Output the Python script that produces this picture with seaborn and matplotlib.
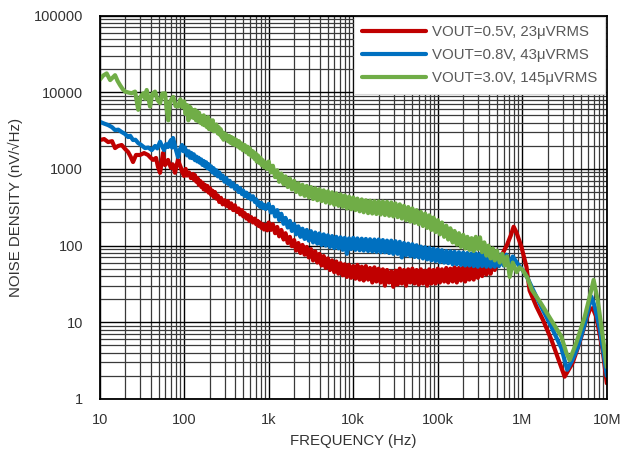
import numpy as np
import pandas as pd
import matplotlib
matplotlib.use("Agg")
import matplotlib.pyplot as plt
import seaborn as sns
from matplotlib.ticker import FixedLocator, NullFormatter, LogLocator

# ---------------- data ----------------
series_names = ["VOUT=0.5V, 23\u03bcVRMS", "VOUT=0.8V, 43\u03bcVRMS", "VOUT=3.0V, 145\u03bcVRMS"]
series_colors = ["#C00000", "#0070C0", "#70AD47"]

# (frequency Hz, noise nV/rtHz) pairs
red_pts = [
    (10, 2380), (11.3, 2450), (12.6, 2240), (14, 2300), (15.2, 1870), (16.5, 1990), (18.2, 2050),
    (20, 1820), (21.7, 1660), (23.2, 1450), (24.8, 1230), (26.9, 1520), (30, 1520), (33.5, 1610),
    (37.3, 1520), (40, 1400), (42.8, 1310), (46.4, 1390), (49, 1060), (51.8, 890), (54, 1200),
    (56.1, 1610), (59.3, 1120), (62, 1200), (64.4, 1310), (67, 1150), (69.8, 1030), (73, 1150),
    (77.8, 890), (81, 1100), (84.5, 1310), (88, 1150), (91.6, 1030), (95, 900), (99.5, 810),
    (104, 1000), (108, 820), (114, 900), (120, 760), (127, 860), (131, 720), (134, 830), (139, 680),
    (144, 760), (149, 620), (154, 700), (160, 580), (165, 660), (170, 540), (176, 620), (182, 520),
    (188, 600), (195, 490), (202, 560), (208, 460), (216, 520), (223, 430), (231, 500), (240, 410),
    (250, 450), (260, 370), (272, 420), (285, 345), (300, 390), (315, 330), (329, 380), (345, 310),
    (360, 355), (380, 290), (398, 335), (420, 275), (440, 305), (460, 255), (482, 290), (500, 240),
    (520, 265), (545, 225), (568, 250), (590, 210), (620, 235), (650, 200), (687, 225), (710, 190),
    (740, 210), (760, 180), (787, 200), (820, 170), (850, 190), (880, 162), (920, 185), (960, 158),
    (1000, 200), (1060, 160), (1120, 190), (1190, 145), (1260, 175), (1330, 132), (1410, 160),
    (1500, 120), (1580, 145), (1680, 108), (1780, 130), (1880, 98), (2000, 118), (2110, 86),
    (2240, 108), (2370, 80), (2510, 102), (2660, 76), (2820, 96), (2980, 70), (3160, 90), (3350, 64),
    (3550, 84), (3760, 60), (3980, 78), (4220, 55), (4470, 73), (4730, 51), (5010, 68), (5310, 48),
    (5620, 64), (5960, 45), (6310, 62), (6680, 43), (7080, 59), (7500, 41), (7940, 57), (8410, 39),
    (8910, 56), (9440, 38), (10000, 54), (10600, 37), (11200, 56), (11900, 36), (12600, 53),
    (13300, 35), (14100, 54), (15000, 36), (15800, 51), (16800, 33), (17800, 52), (18800, 34),
    (20000, 50), (21100, 33), (22400, 49), (23700, 30), (25100, 48), (26600, 33), (28200, 46),
    (29800, 29), (31600, 47), (33500, 31), (35500, 50), (37600, 32), (39800, 48), (42200, 30),
    (44700, 49), (47300, 33), (50100, 50), (53100, 32), (56200, 48), (59600, 31), (63100, 49),
    (66800, 32), (70800, 47), (75000, 30), (79400, 49), (84100, 32), (89100, 48), (94400, 32),
    (100000, 50), (106000, 33), (112000, 49), (119000, 34), (126000, 51), (133000, 33),
    (141000, 50), (150000, 34), (158000, 52), (168000, 33), (178000, 51), (188000, 35),
    (200000, 52), (211000, 34), (224000, 51), (237000, 36), (251000, 53), (266000, 36),
    (282000, 52), (298000, 38), (316000, 56), (335000, 40), (355000, 56), (376000, 42),
    (398000, 59), (422000, 43), (447000, 61), (473000, 48), (501000, 64),
    (571000, 75), (654000, 100), (730000, 135), (790000, 176), (850000, 150), (975000, 97),
    (1.12e6, 53), (1.22e6, 26), (1.47e6, 16), (1.76e6, 10.7), (2.21e6, 5.9), (2.77e6, 2.95),
    (3.17e6, 1.95), (3.94e6, 2.95), (4.5e6, 4.5), (5.0e6, 6.5), (5.6e6, 10), (6.27e6, 14.5),
    (6.8e6, 15.3), (7.5e6, 11.8), (8.9e6, 4.4), (1e7, 1.6),
]

blue_pts = [
    (10, 4120), (11.3, 3900), (12.6, 3730), (14, 3500), (15.2, 3210), (16.6, 3250), (18.2, 3030),
    (20, 2850), (21.7, 2600), (23, 2700), (24.8, 2380), (26.5, 2400), (28.5, 2180), (31, 2050),
    (34.4, 1870), (37.5, 1900), (41.3, 1760), (45.2, 1990), (48, 1850), (51.8, 2260), (54.5, 2000),
    (57.7, 1760), (61, 2100), (64.4, 1930), (67, 2200), (69.8, 2380), (71.8, 1900), (73.8, 2530),
    (77, 2100), (80, 1760), (84.5, 1430), (89, 1800), (94.2, 2050), (98, 1700),
    (102, 1900), (108, 1500), (113, 1700), (117, 1400), (121, 1620), (125, 1380), (130, 1550),
    (134, 1300), (139, 1450), (143, 1250), (148, 1400), (154, 1200), (159, 1330), (164, 1130),
    (170, 1270), (176, 1080), (182, 1220), (188, 1020), (195, 1150), (202, 980), (208, 1080),
    (215, 900), (223, 1020), (231, 850), (240, 960), (250, 800), (260, 900), (272, 750), (285, 820),
    (300, 680), (315, 760), (329, 640), (345, 700), (360, 590), (380, 650), (398, 550), (420, 600),
    (440, 500), (460, 560), (482, 470), (500, 520), (520, 440), (545, 490), (568, 420), (590, 460),
    (620, 400), (650, 440), (687, 370), (710, 400), (740, 340), (760, 370), (787, 320), (820, 360),
    (850, 310), (880, 340), (920, 300), (960, 330),
    (1000, 350), (1060, 270), (1120, 320), (1190, 240), (1260, 290), (1330, 215), (1410, 260),
    (1500, 192), (1580, 230), (1680, 172), (1780, 210), (1880, 155), (2000, 192), (2110, 140),
    (2240, 178), (2370, 130), (2510, 166), (2660, 122), (2820, 160), (2980, 116), (3160, 154),
    (3350, 110), (3550, 148), (3760, 106), (3980, 144), (4220, 102), (4470, 140), (4730, 100),
    (5010, 136), (5310, 96), (5620, 133), (5960, 93), (6310, 130), (6680, 92), (7080, 128),
    (7500, 88), (7940, 126), (8410, 78), (8910, 124), (9440, 90), (10000, 126), (10600, 88),
    (11200, 124), (11900, 87), (12600, 123), (13300, 86), (14100, 122), (15000, 85), (15800, 121),
    (16800, 84), (17800, 120), (18800, 83), (20000, 120), (21100, 82), (22400, 118), (23700, 82),
    (25100, 116), (26600, 80), (28200, 116), (29800, 78), (31600, 114), (33500, 78), (35500, 112),
    (37600, 70), (39800, 108), (42200, 75), (44700, 106), (47300, 73), (50100, 104), (53100, 71),
    (56200, 101), (59600, 70), (63100, 97), (66800, 68), (70800, 95), (75000, 66), (79400, 93),
    (84100, 64), (89100, 91), (94400, 63), (100000, 89), (106000, 61), (112000, 87), (119000, 60),
    (126000, 85), (133000, 59), (141000, 84), (150000, 57), (158000, 83), (168000, 57),
    (178000, 82), (188000, 56), (200000, 81), (211000, 55), (224000, 80), (237000, 55),
    (251000, 79), (266000, 54), (282000, 79), (298000, 53), (316000, 78), (335000, 54),
    (355000, 77), (376000, 53), (398000, 77), (422000, 53), (447000, 77), (473000, 53),
    (501000, 76), (530000, 54), (560000, 76), (600000, 55), (650000, 76), (700000, 56),
    (771000, 72), (880000, 58), (1.01e6, 48), (1.15e6, 38), (1.33e6, 27), (1.65e6, 16.5),
    (2.2e6, 8.8), (2.9e6, 4.6), (3.4e6, 2.4), (3.9e6, 3.2), (4.5e6, 4.6), (5.5e6, 9.5),
    (6.56e6, 21.6), (7.2e6, 16), (8.2e6, 8.5), (9.2e6, 3.8), (1e7, 2.0),
]

green_pts = [
    (10, 14500), (11, 16500), (12.1, 17600), (13.3, 14400), (14.2, 15500), (15.2, 16700),
    (16.3, 14000), (17.4, 12400), (18.7, 11000), (20, 10200), (22, 9900), (23.9, 9700),
    (26.2, 10200), (28.6, 5900), (30.5, 8800), (32.9, 9700), (34.5, 8200), (36, 10700),
    (37.8, 8400), (39.4, 6500), (42, 9500), (45.2, 10200), (48, 8000), (51.8, 7200), (55, 9600),
    (59.3, 9700), (62, 6000), (64.9, 4300), (68, 7500), (71, 8200), (74.3, 8700), (79, 6600),
    (85.1, 6500), (90, 8100), (95, 6400),
    (100, 7600), (104, 5200), (108, 6800), (112, 4300), (116, 6500), (120, 6200), (124, 4700),
    (127, 5800), (131, 4600), (134, 5900), (138, 4300), (142, 5600), (146, 4200), (150, 5400),
    (155, 4000), (161, 4900), (165, 3800), (170, 5000), (175, 3700), (180, 4400), (186, 3500),
    (191, 4750), (197, 3300), (205, 4300), (211, 3200), (218, 4300), (224, 3100), (231, 3500),
    (240, 3800), (250, 2900), (256, 3500), (263, 2800), (270, 3300), (277, 2600), (285, 3000),
    (292, 2400), (300, 2900), (308, 2500), (315, 2800), (329, 2300), (340, 2700), (350, 2200),
    (362, 2600), (375, 2100), (386, 2500), (398, 2050), (412, 2400), (430, 1950), (445, 2300),
    (460, 1850), (478, 2150), (495, 1750), (520, 2050), (540, 1650), (560, 1950), (580, 1550),
    (600, 1850), (628, 1450), (650, 1700), (680, 1350), (700, 1600), (720, 1250), (745, 1500),
    (770, 1200), (800, 1400), (824, 1120), (850, 1300), (880, 1050), (915, 1220), (950, 1000),
    (1000, 1250), (1060, 900), (1120, 1100), (1190, 780), (1260, 960), (1330, 680), (1410, 870),
    (1500, 630), (1580, 800), (1680, 580), (1780, 750), (1880, 540), (2000, 700), (2110, 500),
    (2240, 650), (2370, 465), (2510, 620), (2660, 445), (2820, 600), (2980, 425), (3160, 580),
    (3350, 405), (3550, 560), (3760, 390), (3980, 545), (4220, 380), (4470, 525), (4730, 365),
    (5010, 510), (5310, 355), (5620, 495), (5960, 340), (6310, 480), (6680, 330), (7080, 465),
    (7500, 320), (7940, 450), (8410, 305), (8910, 435), (9440, 298), (10000, 425), (10600, 290),
    (11200, 410), (11900, 280), (12600, 400), (13300, 272), (14100, 390), (15000, 265),
    (15800, 385), (16800, 262), (17800, 380), (18800, 258), (20000, 378), (21100, 254),
    (22400, 375), (23700, 250), (25100, 372), (26600, 245), (28200, 365), (29800, 240),
    (31600, 355), (33500, 235), (35500, 345), (37600, 225), (39800, 330), (42200, 215),
    (44700, 318), (47300, 206), (50100, 305), (53100, 198), (56200, 290), (59600, 190),
    (63100, 275), (66800, 180), (70800, 262), (75000, 170), (79400, 248), (84100, 160),
    (89100, 232), (94400, 150), (100000, 215), (106000, 140), (112000, 200), (119000, 130),
    (126000, 182), (133000, 120), (141000, 168), (150000, 110), (158000, 155), (168000, 103),
    (178000, 145), (188000, 96), (200000, 138), (211000, 92), (224000, 130), (237000, 88),
    (251000, 125), (266000, 85), (282000, 130), (298000, 90), (316000, 128), (335000, 82),
    (355000, 110), (376000, 74), (398000, 100), (422000, 68), (447000, 92), (473000, 64),
    (501000, 86), (541000, 60), (580000, 78), (620000, 55), (660000, 72), (710000, 39),
    (771000, 60), (859000, 45), (930000, 52), (1.01e6, 48), (1.15e6, 38), (1.3e6, 26.4),
    (1.65e6, 17.9), (2.2e6, 10.7), (2.9e6, 6.5), (3.32e6, 4.0), (3.63e6, 3.2), (4.36e6, 5.4),
    (5.47e6, 11.7), (6.56e6, 26.4), (6.98e6, 35.6), (7.8e6, 19.5), (9.4e6, 4.4), (1e7, 2.6),
]

x_tick_values = [10, 100, 1e3, 1e4, 1e5, 1e6, 1e7]
x_tick_labels = ["10", "100", "1k", "10k", "100k", "1M", "10M"]
y_tick_values = [1, 10, 100, 1000, 10000, 100000]
y_tick_labels = ["1", "10", "100", "1000", "10000", "100000"]

frames = []
for name, pts in zip(series_names, [red_pts, blue_pts, green_pts]):
    d = pd.DataFrame(pts, columns=["f", "v"])
    d["series"] = name
    frames.append(d)
df = pd.concat(frames, ignore_index=True)

# ---------------- styling ----------------
sns.set_style("white")
plt.rcParams["font.family"] = ["Liberation Sans", "DejaVu Sans"]

fig = plt.figure(figsize=(6.23, 4.58), dpi=100)
ax = fig.add_axes([0.160, 0.129, 0.814, 0.837])

sns.lineplot(data=df, x="f", y="v", hue="series", hue_order=series_names,
             palette=series_colors, estimator=None, sort=False, linewidth=3.0,
             ax=ax, legend=True)

ax.set_xscale("log")
ax.set_yscale("log")
ax.set_xlim(10, 1e7)
ax.set_ylim(1, 100000)

ax.xaxis.set_major_locator(FixedLocator(x_tick_values))
ax.set_xticklabels(x_tick_labels)
ax.yaxis.set_major_locator(FixedLocator(y_tick_values))
ax.set_yticklabels(y_tick_labels)
ax.xaxis.set_minor_locator(LogLocator(base=10, subs=np.arange(2, 10), numticks=20))
ax.yaxis.set_minor_locator(LogLocator(base=10, subs=np.arange(2, 10), numticks=20))
ax.xaxis.set_minor_formatter(NullFormatter())
ax.yaxis.set_minor_formatter(NullFormatter())

ax.grid(True, which="major", color="#000000", linewidth=1.0)
ax.grid(True, which="minor", color="#3a3a3a", linewidth=0.9)
ax.set_axisbelow(True)

ax.tick_params(which="both", length=0, labelsize=10.5, labelcolor="#333333")
ax.tick_params(axis="x", pad=10)
ax.tick_params(axis="y", pad=12)

for s in ax.spines.values():
    s.set_visible(True)
    s.set_color("#000000")
    s.set_linewidth(1.3)

ax.set_xlabel("FREQUENCY (Hz)", fontsize=10.8, color="#333333", labelpad=5)
ax.set_ylabel("NOISE DENSITY (nV/\u221aHz)", fontsize=10.8, color="#333333", labelpad=8)

leg = ax.legend(loc="upper right", fontsize=10.8, frameon=True, fancybox=False,
                framealpha=1.0, edgecolor="#d9d9d9", handlelength=4.3,
                borderaxespad=0.1, labelspacing=0.6, handletextpad=0.35,
                borderpad=0.55)
for t in leg.get_texts():
    t.set_color("#595959")
for h in leg.get_lines():
    h.set_linewidth(3.0)
leg.get_frame().set_linewidth(0.8)

fig.savefig("out.png", dpi=100)
